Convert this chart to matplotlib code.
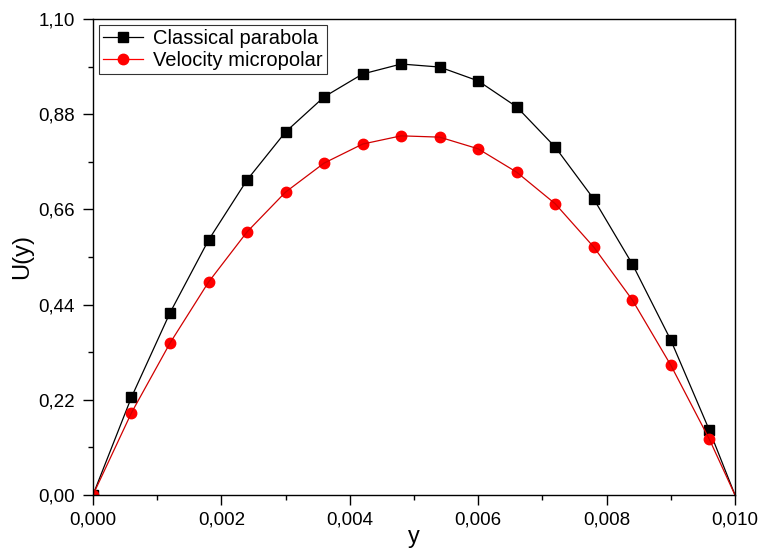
import numpy as np
from matplotlib import pyplot as plt
from matplotlib.ticker import FuncFormatter, MultipleLocator

# values
y_pos = [0.0, 0.0006, 0.0012, 0.0018, 0.0024, 0.0030, 0.0036, 0.0042, 0.0048,
         0.0054, 0.0060, 0.0066, 0.0072, 0.0078, 0.0084, 0.0090, 0.0096, 0.010]
u_classical = [0.0, 0.226, 0.421, 0.589, 0.728, 0.839, 0.920, 0.973, 0.996,
               0.989, 0.957, 0.897, 0.804, 0.684, 0.534, 0.358, 0.150, 0.0]
u_micropolar = [0.0, 0.190, 0.351, 0.492, 0.608, 0.700, 0.767, 0.811, 0.830,
                0.827, 0.800, 0.746, 0.673, 0.573, 0.451, 0.300, 0.129, 0.0]

plt.rcParams['font.family'] = ['Liberation Sans', 'DejaVu Sans']

fig = plt.figure(figsize=(7.64, 5.53), dpi=100)
ax = fig.add_axes([0.1217, 0.105, 0.8403, 0.8606])

# markers only at interior points (last point is the line end)
ax.plot(y_pos[:-1], u_classical[:-1], 's', color='black', markersize=6.5)
ax.plot(y_pos, u_classical, '-', color='black', linewidth=0.9)
ax.plot(y_pos[:-1], u_micropolar[:-1], 'o', color='red', markersize=7.5)
ax.plot(y_pos, u_micropolar, '-', color='#d00000', linewidth=0.9)

# legend proxies
ax.plot([], [], 's-', color='black', markersize=6.5, linewidth=0.9, label='Classical parabola')
ax.plot([], [], 'o-', color='red', markersize=7.5, linewidth=0.9, label='Velocity micropolar')
handles, labels = ax.get_legend_handles_labels()
leg = ax.legend(handles, labels, loc='upper left', fontsize=14.5, frameon=True,
                fancybox=False, edgecolor='black', borderpad=0.2,
                handlelength=2.0, handletextpad=0.5, labelspacing=0.15,
                borderaxespad=0.3)
leg.get_frame().set_linewidth(0.8)

ax.set_xlim(0, 0.010)
ax.set_ylim(0, 1.10)
ax.xaxis.set_major_locator(MultipleLocator(0.002))
ax.xaxis.set_minor_locator(MultipleLocator(0.001))
ax.yaxis.set_major_locator(MultipleLocator(0.22))
ax.yaxis.set_minor_locator(MultipleLocator(0.11))
ax.xaxis.set_major_formatter(FuncFormatter(lambda v, p: f"{v:.3f}".replace('.', ',')))
ax.yaxis.set_major_formatter(FuncFormatter(lambda v, p: f"{v:.2f}".replace('.', ',')))
ax.tick_params(which='major', direction='out', length=7, width=1, labelsize=13.5)
ax.tick_params(axis='x', which='major', pad=5)
ax.tick_params(axis='y', which='major', pad=6)
ax.tick_params(which='minor', direction='out', length=3.8, width=1)
for s in ax.spines.values():
    s.set_linewidth(1.0)

ax.set_xlabel('y', fontsize=17, labelpad=-2)
ax.set_ylabel('U(y)', fontsize=17, labelpad=4)

fig.savefig('out.png', dpi=100)
